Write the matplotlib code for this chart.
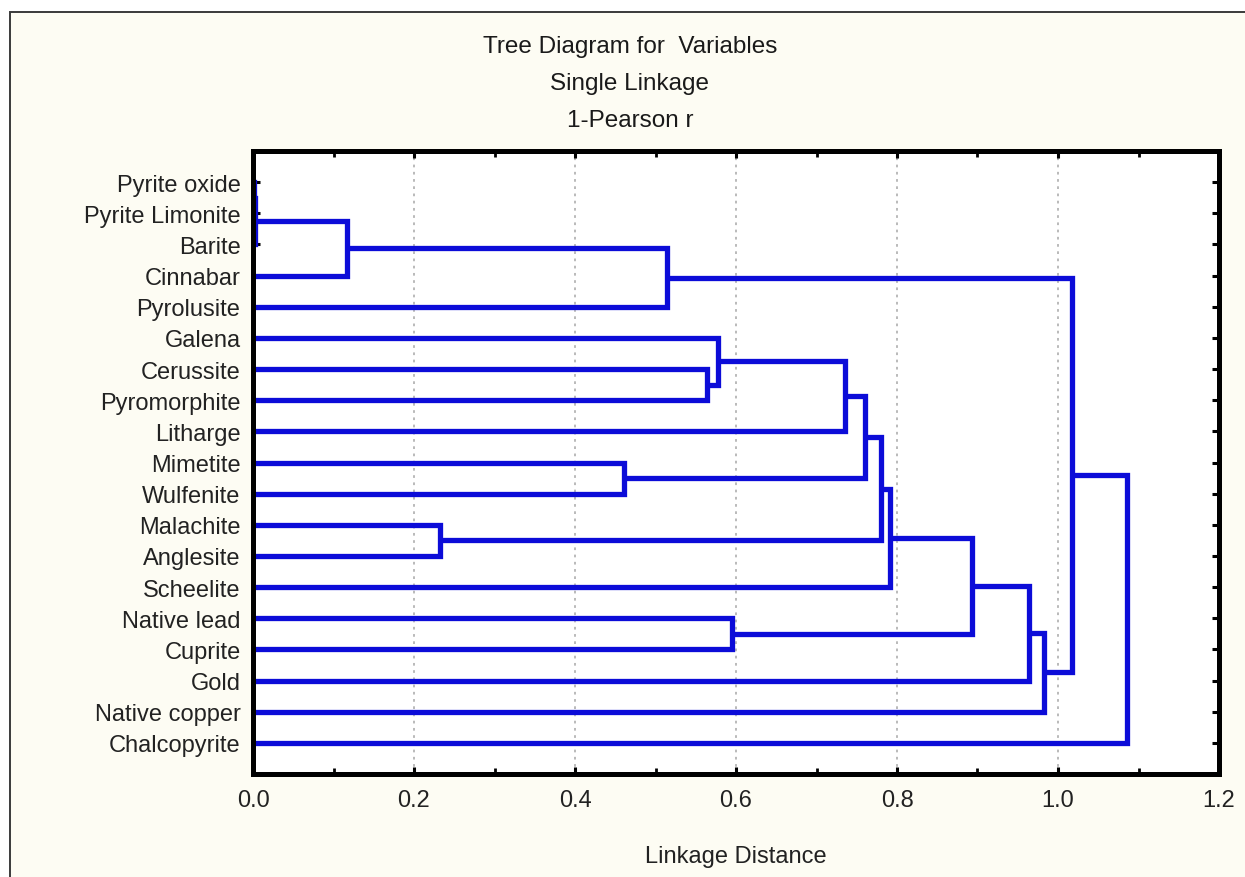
import numpy as np
import matplotlib
matplotlib.use('Agg')
import matplotlib.pyplot as plt
from matplotlib.patches import Rectangle
from matplotlib.ticker import MultipleLocator

plt.rcParams['font.family'] = ['Liberation Sans', 'DejaVu Sans']

# leaf order, top to bottom
leaves = ['Pyrite oxide', 'Pyrite Limonite', 'Barite', 'Cinnabar', 'Pyrolusite',
          'Galena', 'Cerussite', 'Pyromorphite', 'Litharge', 'Mimetite',
          'Wulfenite', 'Malachite', 'Anglesite', 'Scheelite', 'Native lead',
          'Cuprite', 'Gold', 'Native copper', 'Chalcopyrite']

# merges: ids < 19 are leaves, merge k creates cluster 19+k
merge_left = [0, 19, 20, 21, 6, 5, 24, 9, 25, 11, 27, 29, 14, 30, 32, 33, 22, 35]
merge_right = [1, 2, 3, 4, 7, 23, 8, 10, 26, 12, 28, 13, 15, 31, 16, 17, 34, 18]
merge_dist = [0.001, 0.002, 0.117, 0.514, 0.564, 0.578, 0.735, 0.461, 0.760,
              0.232, 0.780, 0.791, 0.595, 0.893, 0.964, 0.983, 1.017, 1.086]

title_lines = ['Tree Diagram for  Variables', 'Single Linkage', '1-Pearson r']

W, H = 1245, 878
fig = plt.figure(figsize=(W / 100, H / 100), dpi=100, facecolor='white')

# cream panel with thin frame on left/top
panel = Rectangle((10 / W, -0.05), 1.1, 1 - 13 / H + 0.05,
                  transform=fig.transFigure, facecolor='#fdfcf3',
                  edgecolor='#3a3a3a', lw=1.4, zorder=-5)
fig.add_artist(panel)

ax = fig.add_axes([253 / W, 1 - 775 / H, (1219 - 253) / W, (775 - 152) / H])
ax.set_zorder(2)
ax.set_facecolor('white')

blue = '#0c0cd8'
n = len(leaves)
pos = {i: (0.0, float(i)) for i in range(n)}
for k, (a, b, d) in enumerate(zip(merge_left, merge_right, merge_dist)):
    xa, ya = pos[a]
    xb, yb = pos[b]
    ax.plot([xa, d, d, xb], [ya, ya, yb, yb], color=blue, lw=3.8,
            solid_joinstyle='miter', solid_capstyle='butt', zorder=2)
    pos[n + k] = (d, (ya + yb) / 2)

ax.set_xlim(0, 1.2)
ax.set_ylim(n, -1)
ax.xaxis.set_minor_locator(MultipleLocator(0.1))
ax.set_xticks(np.arange(0, 1.21, 0.2))
ax.set_xticklabels([f'{v:.1f}' for v in np.arange(0, 1.21, 0.2)])
ax.set_yticks(range(n))
ax.set_yticklabels(leaves)

ax.tick_params(axis='both', which='both', direction='in', top=True, right=True,
               color='black', width=2.2, length=5, labelsize=17, labelcolor='#222222')
ax.tick_params(axis='x', which='minor', length=4, width=2)
ax.tick_params(axis='x', pad=11)
ax.tick_params(axis='y', pad=9)

ax.grid(axis='x', which='major', color='#b4b4b4', linestyle=(0, (1.5, 2.5)), lw=1.3)
ax.set_axisbelow(True)
for sp in ax.spines.values():
    sp.set_linewidth(3.6)
    sp.set_color('black')
    sp.set_zorder(3)

ax.set_xlabel('Linkage Distance', fontsize=17, color='#222222', labelpad=24)

for i, t in enumerate(title_lines):
    fig.text(630 / W, 1 - (47 + 37 * i) / H, t, ha='center', va='center',
             fontsize=17.5, color='#1a1a1a')

fig.savefig('out.png', dpi=100, facecolor=fig.get_facecolor())
